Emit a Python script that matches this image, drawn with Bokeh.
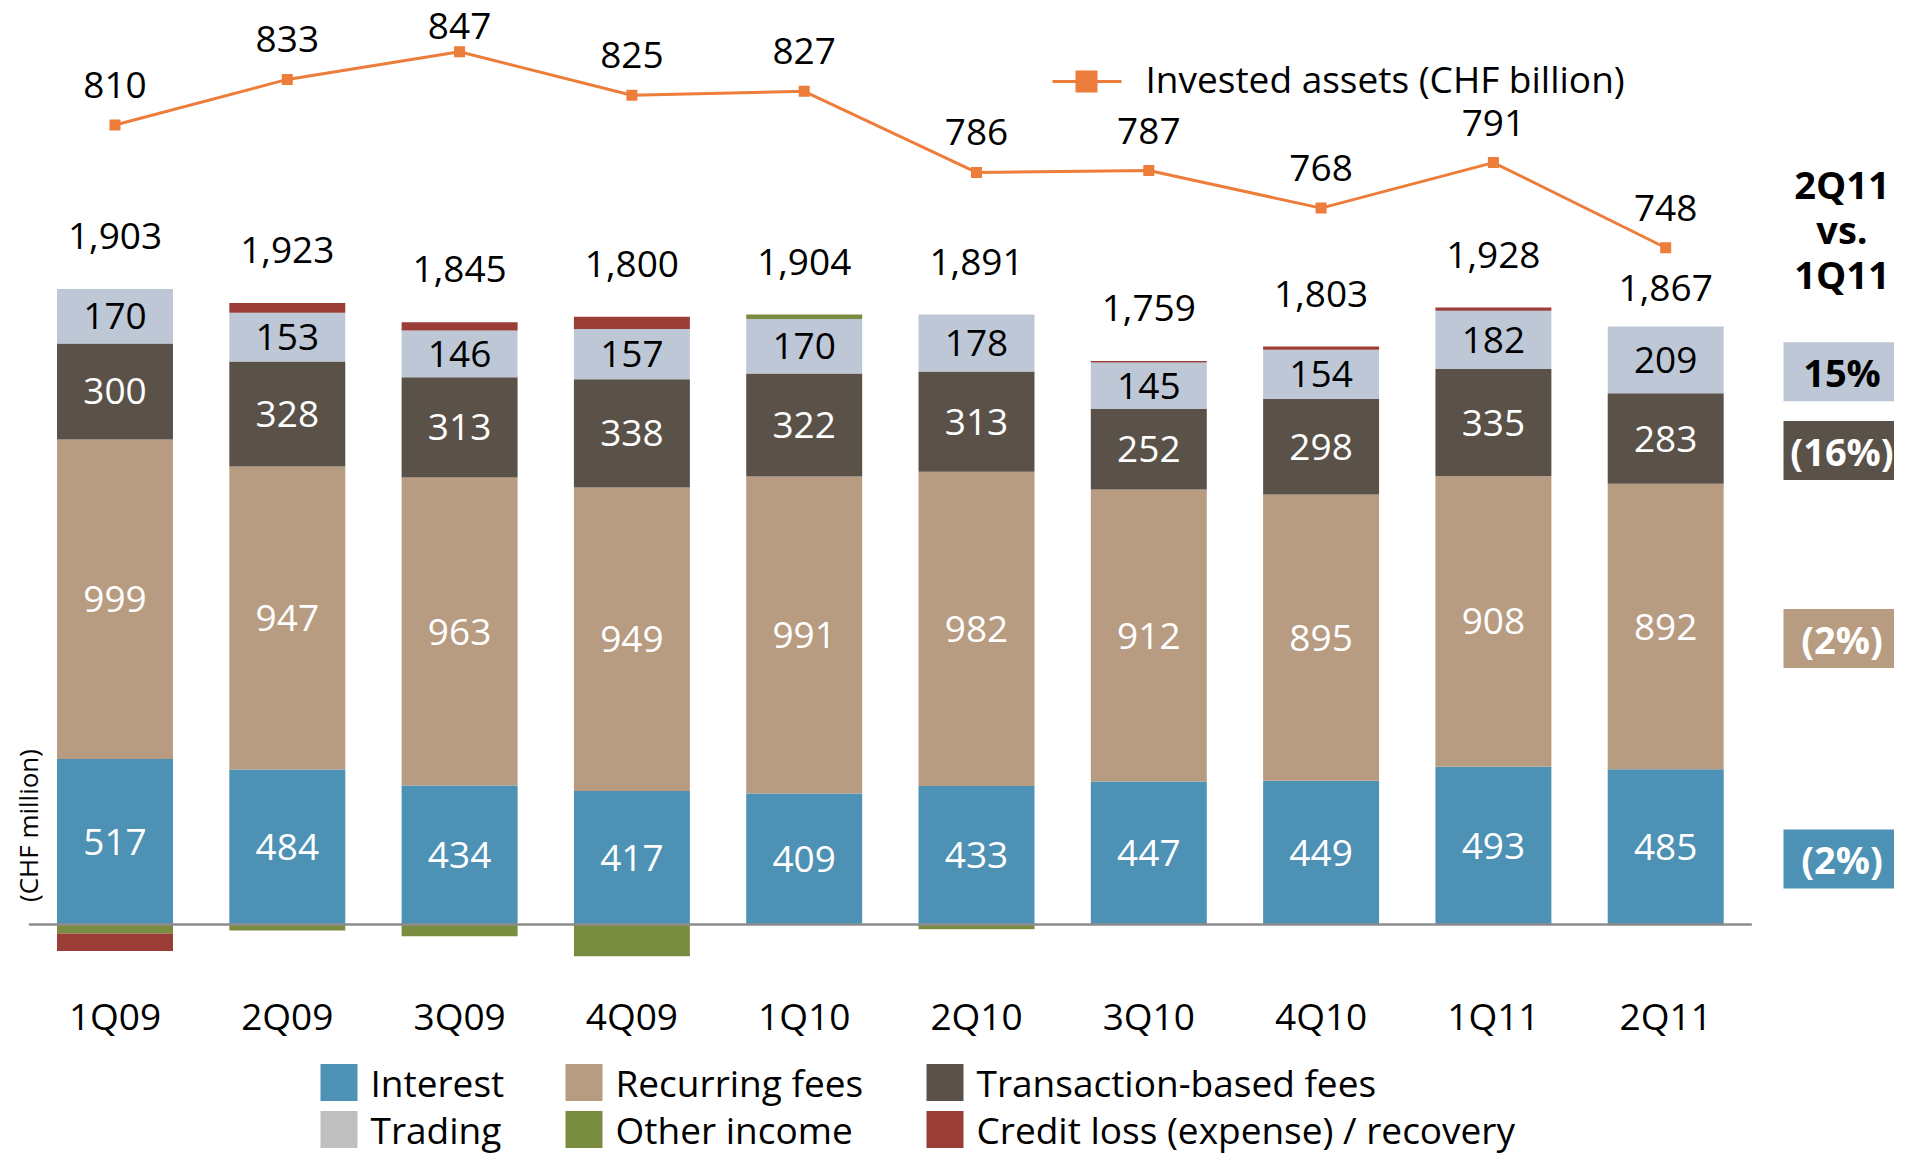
import numpy as np
from bokeh.plotting import figure
from bokeh.models import Range1d
from bokeh.core.properties import value
from bokeh.embed import file_html
from bokeh.resources import INLINE

# ---------------- data ----------------
quarters = ["1Q09", "2Q09", "3Q09", "4Q09", "1Q10", "2Q10", "3Q10", "4Q10", "1Q11", "2Q11"]
interest = [517, 484, 434, 417, 409, 433, 447, 449, 493, 485]
recurring_fees = [999, 947, 963, 949, 991, 982, 912, 895, 908, 892]
transaction_fees = [300, 328, 313, 338, 322, 313, 252, 298, 335, 283]
trading = [170, 153, 146, 157, 170, 178, 145, 154, 182, 209]
other_income = [-28, -19, -37, -99, 14, -15, 0, 0, 0, -2]
credit_loss = [-55, 30, 26, 38, 0, 0, 5, 10, 10, 0]
totals = [1903, 1923, 1845, 1800, 1904, 1891, 1759, 1803, 1928, 1867]
invested_assets = [810, 833, 847, 825, 827, 786, 787, 768, 791, 748]

series_names = ["Interest", "Recurring fees", "Transaction-based fees",
                "Trading", "Other income", "Credit loss (expense) / recovery"]
series_colors = ["#4D91B5", "#B89C82", "#5A5248", "#BDC7D6", "#7A8C40", "#993D36"]
legend_colors = ["#4D91B5", "#B89C82", "#5A5248", "#BFBFBF", "#7A8C40", "#993D36"]
line_color = "#ED7D3A"
line_label = "Invested assets (CHF billion)"
y_label = "(CHF million)"
compare_title = ["2Q11", "vs.", "1Q11"]

# ---------------- layout constants (canvas px) ----------------
W, H = 1894, 1158
X0, XSTEP = 114.5, 172.3        # first bar centre / bar step
Y0, YPX = 924.0, 0.32           # baseline, px per CHF million
A_REF, A_Y, APX = 847, 51.2, 1.98  # invested assets scale
FONT = "Open Sans"
FS = "37px"


def px2x(px):
    return (px - X0) / XSTEP


def py2y(py):
    return (Y0 - py) / YPX


def y2py(v):
    return Y0 - v * YPX


def a2py(a):
    return A_Y + (A_REF - a) * APX


n = len(quarters)
xs = np.arange(n)

p = figure(width=W, height=H, output_backend="svg", toolbar_location=None,
           title=None,
           x_range=Range1d(px2x(0), px2x(W)), y_range=Range1d(py2y(H), py2y(0)),
           x_axis_location=None, y_axis_location=None, min_border=0,
           outline_line_color=None, background_fill_color="white",
           border_fill_color="white")
p.extra_y_ranges = {"assets": Range1d(A_REF - (H - A_Y) / APX, A_REF + A_Y / APX)}
p.xgrid.visible = False
p.ygrid.visible = False

# ---------------- stacked bars ----------------
all_series = [interest, recurring_fees, transaction_fees, trading, other_income, credit_loss]
pos_base = np.zeros(n)
neg_base = np.zeros(n)
bottoms, tops = [], []
for s in all_series:
    s = np.array(s, dtype=float)
    b = np.where(s >= 0, pos_base, neg_base)
    t = b + s
    pos_base = np.where(s >= 0, t, pos_base)
    neg_base = np.where(s < 0, t, neg_base)
    bottoms.append(b)
    tops.append(t)

for s, b, t, c in zip(all_series, bottoms, tops, series_colors):
    p.vbar(x=xs, bottom=b, top=t, width=0.673, fill_color=c, line_color=None)

# baseline
p.segment(x0=[-0.5], y0=[0], x1=[n - 0.5], y1=[0], line_color="#8C8C8C", line_width=2.5)

# segment labels
for k, col in enumerate(["white", "white", "white", "black"]):
    mids = (bottoms[k] + tops[k]) / 2
    p.text(x=xs, y=mids, text=[str(v) for v in all_series[k]],
           text_align="center", text_baseline="middle", text_color=col,
           text_font=value(FONT), text_font_size=value(FS))

# ---------------- invested assets line ----------------
p.line(x=xs, y=invested_assets, y_range_name="assets", line_color=line_color, line_width=3)
p.scatter(x=xs, y=invested_assets, y_range_name="assets", marker="square", size=11,
          fill_color=line_color, line_color=None)

marker_py = np.array([a2py(a) for a in invested_assets])
lab_py = np.maximum(marker_py - 40, 25)
p.text(x=xs, y=[py2y(v) for v in lab_py], text=[str(a) for a in invested_assets],
       text_align="center", text_baseline="middle", text_color="black",
       text_font=value(FONT), text_font_size=value(FS))

# totals
tot_py = np.array([y2py(v) for v in pos_base]) - 53
tot_py = np.where(tot_py - marker_py < 40, marker_py + 40, tot_py)
p.text(x=xs, y=[py2y(v) for v in tot_py], text=[f"{t:,}" for t in totals],
       text_align="center", text_baseline="middle", text_color="black",
       text_font=value(FONT), text_font_size=value(FS))

# category labels
p.text(x=xs, y=[py2y(1015)] * n, text=quarters, text_align="center",
       text_baseline="middle", text_color="black",
       text_font=value(FONT), text_font_size=value(FS))

# y label
p.text(x=[px2x(27)], y=[py2y(825)], text=[y_label], angle=np.pi / 2,
       text_align="center", text_baseline="middle", text_color="black",
       text_font=value(FONT), text_font_size=value("26px"))

# ---------------- comparison column ----------------
bx = px2x(1841.5)
for i, t in enumerate(compare_title):
    p.text(x=[bx], y=[py2y(183 + 45 * i)], text=[t], text_align="center",
           text_baseline="middle", text_color="black", text_font_style="bold",
           text_font=value(FONT), text_font_size=value("38px"))

last, prev = n - 1, n - 2
for k, tc in zip(range(4), ["white", "white", "white", "black"]):
    chg = (all_series[k][last] / all_series[k][prev] - 1) * 100
    r = int(round(abs(chg)))
    txt = f"{r}%" if chg >= 0 else f"({r}%)"
    cy = y2py((bottoms[k][last] + tops[k][last]) / 2) + 12
    p.rect(x=[bx], y=[py2y(cy)], width=117, height=59, width_units="screen",
           height_units="screen", fill_color=series_colors[k], line_color=None)
    p.text(x=[bx], y=[py2y(cy)], text=[txt], text_align="center",
           text_baseline="middle", text_color=tc, text_font_style="bold",
           text_font=value(FONT), text_font_size=value("38px"))

# ---------------- legends ----------------
# invested assets legend
ly = py2y(81)
p.segment(x0=[px2x(1052)], y0=[ly], x1=[px2x(1121)], y1=[ly],
          line_color=line_color, line_width=3)
p.scatter(x=[px2x(1086)], y=[ly], marker="square", size=22,
          fill_color=line_color, line_color=None)
p.text(x=[px2x(1145)], y=[py2y(78)], text=[line_label], text_align="left",
       text_baseline="middle", text_color="black",
       text_font=value(FONT), text_font_size=value(FS))

col_left = [320, 565, 926]
row_y = [1082, 1129]
for i, (name, c) in enumerate(zip(series_names, legend_colors)):
    r, ccol = divmod(i, 3)
    sxp = col_left[ccol]
    syp = row_y[r]
    p.scatter(x=[px2x(sxp + 18.5)], y=[py2y(syp)], marker="square", size=37,
              fill_color=c, line_color=None)
    p.text(x=[px2x(sxp + 50)], y=[py2y(syp)], text=[name], text_align="left",
           text_baseline="middle", text_color="black",
           text_font=value(FONT), text_font_size=value(FS))

open("out.html", "w").write(file_html(p, INLINE))
